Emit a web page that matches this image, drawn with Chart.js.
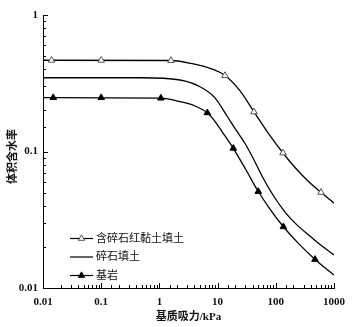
<!DOCTYPE html>
<html>
<head>
<meta charset="utf-8">
<script src="https://cdn.jsdelivr.net/npm/chart.js@4/dist/chart.umd.min.js"></script>
<style>
  html, body { margin: 0; padding: 0; background: #fff; }
  #wrap { position: relative; width: 359px; height: 327px; }
</style>
</head>
<body>
<div id="wrap"><canvas id="swcc"></canvas></div>
<script>
// Soil-water characteristic curves: matric suction (kPa) vs volumetric water content
const seriesNames = ['含碎石红黏土填土', '碎石填土', '基岩'];
const xTickLabels = ['0.01', '0.1', '1', '10', '100', '1000'];
const yTickLabels = ['0.01', '0.1', '1'];
const xTitle = '基质吸力/kPa';
const yTitle = '体积含水率';

// fitted curves
const fitSuction1 = [0.01, 1.58, 3.36, 7.4, 13.4, 24.3, 42.2, 73.5, 133, 214, 357, 598, 1000];
const fitTheta1   = [0.466, 0.464, 0.443, 0.407, 0.360, 0.278, 0.195, 0.137, 0.0975, 0.0763, 0.0608, 0.0502, 0.0418];
const fitSuction2 = [0.01, 0.465, 2.26, 4.99, 9.02, 14.5, 20.7, 29.6, 42.2, 57.9, 89.5, 144, 231, 387, 622, 1000];
const fitTheta2   = [0.347, 0.347, 0.334, 0.298, 0.247, 0.182, 0.144, 0.1145, 0.0867, 0.0662, 0.048, 0.036, 0.029, 0.024, 0.0203, 0.01745];
const fitSuction3 = [0.01, 1.06, 2.26, 4.09, 6.66, 8.67, 11.9, 18.6, 30.8, 50.0, 79.4, 135, 240, 472, 1000];
const fitTheta3   = [0.248, 0.246, 0.232, 0.2155, 0.192, 0.170, 0.140, 0.1055, 0.0732, 0.0509, 0.0379, 0.0281, 0.0214, 0.0162, 0.01245];

// measured points
const obsSuction1 = [0.014, 0.1, 1.58, 13.4, 42.2, 133, 598];
const obsTheta1   = [0.466, 0.466, 0.464, 0.360, 0.195, 0.0975, 0.0502];
const obsSuction3 = [0.015, 0.1, 1.06, 6.66, 18.6, 50, 135, 472];
const obsTheta3   = [0.248, 0.248, 0.246, 0.192, 0.1055, 0.0509, 0.0281, 0.0162];

const pairs = (xs, ys) => xs.map((v, i) => ({ x: v, y: ys[i] }));
const isDecade = v => Math.abs(Math.log10(v) - Math.round(Math.log10(v))) < 1e-6;
const decadeLabel = (v, labels, minExp) => {
  if (!isDecade(v)) return '';
  const k = Math.round(Math.log10(v)) - minExp;
  return labels[k] !== undefined ? labels[k] : '';
};

const numFont = { family: "'Liberation Serif', 'Times New Roman', serif", size: 11, weight: 'bold' };
const cjkFont = "'Liberation Serif', 'Noto Sans CJK SC', serif";

const markerStyles = [
  { style: 'triangle', fill: '#ffffff', stroke: '#555555' },
  null,
  { style: 'triangle', fill: '#000000', stroke: '#000000' }
];

function drawTriangle(ctx, cx, cy, r, fill, stroke) {
  const edge = r * Math.sqrt(3);
  const h = edge * Math.sqrt(3) / 2;
  ctx.beginPath();
  ctx.moveTo(cx, cy - 2 * h / 3);
  ctx.lineTo(cx + edge / 2, cy + h / 3);
  ctx.lineTo(cx - edge / 2, cy + h / 3);
  ctx.closePath();
  ctx.fillStyle = fill; ctx.fill();
  ctx.lineWidth = 1; ctx.strokeStyle = stroke; ctx.stroke();
}

// inward tick marks on both axes
const inwardTicks = {
  id: 'inwardTicks',
  afterDatasetsDraw(chart) {
    const { ctx, chartArea: a, scales: { x, y } } = chart;
    ctx.save();
    ctx.strokeStyle = '#000';
    ctx.lineWidth = 1;
    ctx.beginPath();
    x.ticks.forEach(t => {
      const px = Math.round(x.getPixelForValue(t.value)) + 0.5;
      const len = isDecade(t.value) ? 5 : 3;
      ctx.moveTo(px, a.bottom);
      ctx.lineTo(px, a.bottom - len);
    });
    y.ticks.forEach(t => {
      const py = Math.round(y.getPixelForValue(t.value)) + 0.5;
      const len = isDecade(t.value) ? 5 : 3;
      ctx.moveTo(a.left, py);
      ctx.lineTo(a.left + len, py);
    });
    ctx.stroke();
    ctx.restore();
  }
};

// legend inside the plot, lower left; y-axis title
const insideLegend = {
  id: 'insideLegend',
  afterDraw(chart) {
    const { ctx, chartArea: a } = chart;
    ctx.save();
    const x0 = a.left + 27, x1 = a.left + 50, textX = a.left + 53;
    const rows = [a.bottom - 49.5, a.bottom - 31, a.bottom - 12.5];
    seriesNames.forEach((name, i) => {
      const cy = rows[i];
      ctx.strokeStyle = '#000';
      ctx.lineWidth = 1.2;
      ctx.beginPath();
      ctx.moveTo(x0, cy); ctx.lineTo(x1, cy);
      ctx.stroke();
      const m = markerStyles[i];
      if (m) drawTriangle(ctx, (x0 + x1) / 2, cy, 3.6, m.fill, m.stroke);
      ctx.fillStyle = '#111';
      ctx.font = `11px ${cjkFont}`;
      ctx.textBaseline = 'middle';
      ctx.textAlign = 'left';
      ctx.fillText(name, textX, cy + 0.5);
    });
    // vertical axis title
    ctx.translate(13, (a.top + a.bottom) / 2 + 5);
    ctx.rotate(-Math.PI / 2);
    ctx.font = `bold 11px ${cjkFont}`;
    ctx.textAlign = 'center';
    ctx.textBaseline = 'middle';
    ctx.fillStyle = '#111';
    ctx.fillText(yTitle, 0, 0);
    ctx.restore();
  }
};

const lineDs = (label, xs, ys) => ({
  label, data: pairs(xs, ys), showLine: true, pointRadius: 0, pointHoverRadius: 0,
  borderColor: '#000', borderWidth: 1.3, cubicInterpolationMode: 'monotone', fill: false, order: 2
});
const markDs = (label, xs, ys, m) => ({
  label, data: pairs(xs, ys), showLine: false, pointStyle: m.style, pointRadius: 3.8,
  pointBackgroundColor: m.fill, pointBorderColor: m.stroke, pointBorderWidth: 1, order: 1
});

new Chart(document.getElementById('swcc'), {
  type: 'scatter',
  data: {
    datasets: [
      lineDs(seriesNames[0], fitSuction1, fitTheta1),
      lineDs(seriesNames[1], fitSuction2, fitTheta2),
      lineDs(seriesNames[2], fitSuction3, fitTheta3),
      markDs(seriesNames[0], obsSuction1, obsTheta1, markerStyles[0]),
      markDs(seriesNames[2], obsSuction3, obsTheta3, markerStyles[2])
    ]
  },
  options: {
    responsive: true,
    maintainAspectRatio: false,
    animation: false,
    devicePixelRatio: 1,
    layout: { padding: { top: 15, right: 25, left: 0, bottom: 0 } },
    plugins: { legend: { display: false }, tooltip: { enabled: false } },
    scales: {
      x: {
        type: 'logarithmic', min: 0.01, max: 1000,
        grid: { display: true, drawOnChartArea: false, drawTicks: false },
        border: { display: true, color: '#000', width: 1 },
        ticks: {
          autoSkip: false, maxRotation: 0, padding: 8, color: '#111', font: numFont,
          callback: v => decadeLabel(v, xTickLabels, -2)
        },
        title: {
          display: true, text: xTitle, color: '#111', padding: { top: 0, bottom: 3 },
          font: { family: cjkFont, size: 11, weight: 'bold' }
        },
        afterFit: s => { s.height = 39; }
      },
      y: {
        type: 'logarithmic', min: 0.01, max: 1,
        grid: { display: true, drawOnChartArea: false, drawTicks: false },
        border: { display: true, color: '#000', width: 1 },
        ticks: {
          autoSkip: false, padding: 5, color: '#111', font: numFont,
          callback: v => decadeLabel(v, yTickLabels, -2)
        },
        afterFit: s => { s.width = 43; }
      }
    }
  },
  plugins: [inwardTicks, insideLegend]
});
</script>
</body>
</html>
